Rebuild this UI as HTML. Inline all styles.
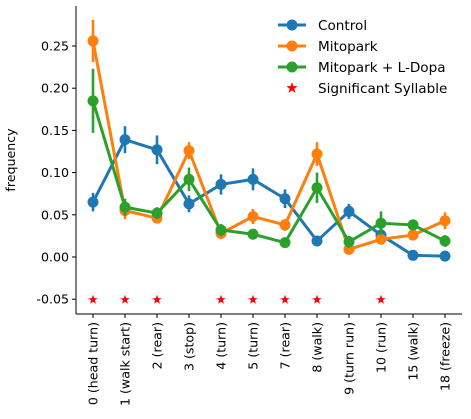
<!DOCTYPE html>
<html><head><meta charset="utf-8"><style>
body{margin:0;background:#fff;}
svg{display:block;font-family:"DejaVu Sans","Liberation Sans",sans-serif;}
</style></head><body>
<svg id="chart" width="471" height="419">
<g id="axes"></g>
<g id="marks"></g>
<g id="legend"></g>
</svg>
<script>
const categories=["0 (head turn)","1 (walk start)","2 (rear)","3 (stop)","4 (turn)","5 (turn)","7 (rear)","8 (walk)","9 (turn run)","10 (run)","15 (walk)","18 (freeze)"];
const controlVals=[0.065,0.139,0.127,0.063,0.086,0.092,0.069,0.019,0.054,0.026,0.002,0.001];
const controlErr=[0.011,0.016,0.017,0.010,0.012,0.013,0.011,0.005,0.009,0.007,0.002,0.002];
const mitoVals=[0.256,0.055,0.046,0.126,0.028,0.048,0.038,0.122,0.009,0.021,0.026,0.043];
const mitoErr=[0.025,0.010,0.006,0.010,0.007,0.009,0.007,0.014,0.004,0.005,0.005,0.010];
const dopaVals=[0.185,0.059,0.052,0.092,0.032,0.027,0.017,0.082,0.018,0.040,0.038,0.019];
const dopaErr=[0.038,0.010,0.007,0.014,0.007,0.005,0.004,0.018,0.007,0.014,0.005,0.007];
const sigIdx=[0,1,2,4,5,6,7,9];
const sigY=-0.05;
const yTicks=[-0.05,0.00,0.05,0.10,0.15,0.20,0.25];
const seriesNames=["Control","Mitopark","Mitopark + L-Dopa"];

const NS="http://www.w3.org/2000/svg";
const L=76,R=462,T=6,B=314;
const y=v=>257-v*844;
const x=i=>93+i*32;
function mk(p,tag,attrs){const e=document.createElementNS(NS,tag);for(const k in attrs)e.setAttribute(k,attrs[k]);p.appendChild(e);return e;}
const axes=document.getElementById('axes'),marks=document.getElementById('marks'),leg=document.getElementById('legend');

let e=mk(axes,'line',{x1:L,y1:T,x2:L,y2:B,stroke:'#000','stroke-width':1});

e=mk(axes,'line',{x1:L,y1:B,x2:R,y2:B,stroke:'#000','stroke-width':1});

yTicks.forEach(t=>{
 mk(axes,'line',{x1:L-4,y1:y(t),x2:L,y2:y(t),stroke:'#000'});
 const tx=mk(axes,'text',{x:L-7,y:y(t)+4.5,'text-anchor':'end','font-size':12.6});
 tx.textContent=t.toFixed(2);
 
});
categories.forEach((c,i)=>{
 mk(axes,'line',{x1:x(i),y1:B,x2:x(i),y2:B+4,stroke:'#000'});
 const tx=mk(axes,'text',{x:x(i)+4.5,y:B+8,'text-anchor':'end','font-size':12.6,transform:`rotate(-90 ${x(i)+4.5} ${B+8})`});
 tx.textContent=c;
 
});
e=mk(axes,'text',{x:15,y:160,'text-anchor':'middle','font-size':12.6,transform:'rotate(-90 15 160)'});
e.textContent='frequency';


const series=[[controlVals,controlErr,'#1f77b4'],[mitoVals,mitoErr,'#ff7f0e'],[dopaVals,dopaErr,'#2ca02c']];
series.forEach(([v,er,col],s)=>{
 const g=mk(marks,'g',{});
 
 
 v.forEach((d,i)=>{mk(g,'line',{x1:x(i),x2:x(i),y1:y(d-er[i]),y2:y(d+er[i]),stroke:col,'stroke-width':2.6});});
 mk(g,'polyline',{points:v.map((d,i)=>x(i)+','+y(d)).join(' '),fill:'none',stroke:col,'stroke-width':3});
 v.forEach((d,i)=>{const c=mk(g,'circle',{cx:x(i),cy:y(d),r:5.5,fill:col});
  });
});
function star(p,cx,cy,r,col){let pts=[];for(let k=0;k<10;k++){const a=-Math.PI/2+k*Math.PI/5,rr=k%2?r*0.4:r;pts.push((cx+rr*Math.cos(a)).toFixed(1)+','+(cy+rr*Math.sin(a)).toFixed(1));}return mk(p,'polygon',{points:pts.join(' '),fill:col});}
sigIdx.forEach(i=>{const s=star(marks,x(i),y(sigY)+0.5,5,'red');
 });

const cols=['#1f77b4','#ff7f0e','#2ca02c'];
seriesNames.concat(['Significant Syllable']).forEach((n,k)=>{
 const yy=25+k*21;
 const g=mk(leg,'g',{});
 
 if(k<3){mk(g,'line',{x1:278,x2:306,y1:yy,y2:yy,stroke:cols[k],'stroke-width':3});mk(g,'circle',{cx:292,cy:yy,r:5.5,fill:cols[k]});}
 else star(g,292,yy,6,'red');
 const t=mk(g,'text',{x:318,y:yy+5,'font-size':13.6});t.textContent=n;
});
</script>
</body></html>
